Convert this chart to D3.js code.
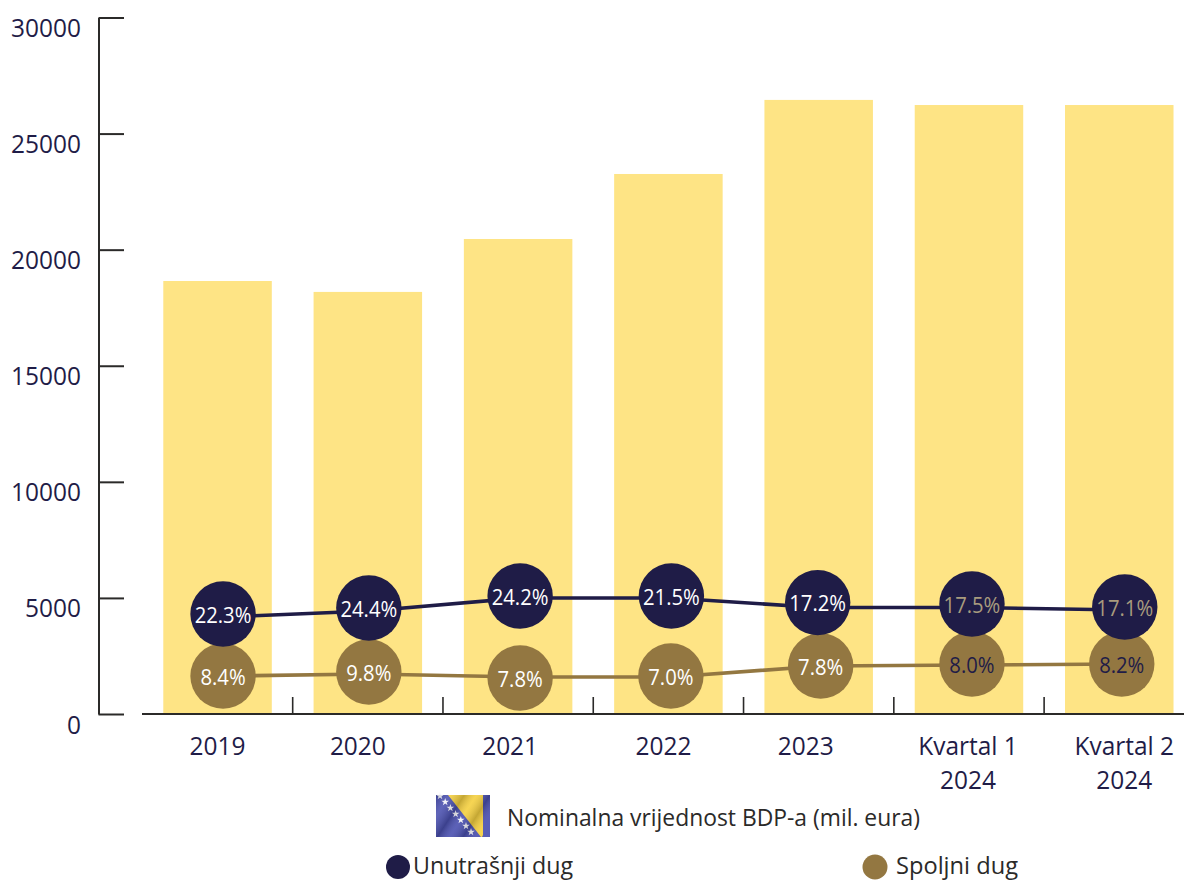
<!DOCTYPE html>
<html><head><meta charset="utf-8">
<script src="https://cdn.jsdelivr.net/npm/d3@7"></script>
<style>html,body{margin:0;padding:0;background:#fff;overflow:hidden}svg{display:block}text{font-family:"Open Sans",Lato,sans-serif}</style>
</head><body><svg id="c" width="1184" height="880"></svg>
<script>
const categories = ["2019","2020","2021","2022","2023","Kvartal 1|2024","Kvartal 2|2024"];
const gdpValues = [18650,18180,20460,23260,26450,26230,26230];
const domesticBubble = [4307,4565,5082,5082,4798,4737,4608];
const domesticLine = [4177,4436,4996,4996,4587,4587,4479];
const externalBubble = [1636,1809,1550,1636,2067,2153,2153];
const externalLine = [1636,1723,1593,1593,2067,2110,2153];
const domesticLabels = ["22.3%","24.4%","24.2%","21.5%","17.2%","17.5%","17.1%"];
const externalLabels = ["8.4%","9.8%","7.8%","7.0%","7.8%","8.0%","8.2%"];
const yTicks = [0,5000,10000,15000,20000,25000,30000];

const NAVY="#1f1c47",BROWN="#937741",BAR="#fee485",INK="#2b2a29";
const svg=d3.select("#c");
const x=d3.scaleBand().domain(categories).range([142.4,1194.4]).paddingInner(0.278).paddingOuter(0.139);
const y=d3.scaleLinear().domain([0,30000]).range([714,17.5]);
const step=x.step();
const cx=c=>x(c)+x.bandwidth()/2;
// squeeze Open Sans glyphs to the narrower proportions of the reference face
const squeeze=(sel,k)=>sel.each(function(){
  const len=this.getComputedTextLength();
  d3.select(this).attr("textLength",len*k).attr("lengthAdjust","spacingAndGlyphs");
});

svg.append("g").selectAll("rect").data(categories).join("rect")
  .attr("x",c=>x(c)).attr("width",x.bandwidth())
  .attr("y",(c,i)=>y(gdpValues[i])).attr("height",(c,i)=>y(0)-y(gdpValues[i]))
  .attr("fill",BAR);

const yAxis=svg.append("g").attr("transform","translate(98.5,0)")
  .call(d3.axisLeft(y).tickValues(yTicks).tickSize(-25.5).tickSizeOuter(0).tickPadding(0).tickFormat(d3.format("d")));
yAxis.selectAll("path,line").attr("stroke",INK).attr("stroke-width",2);
yAxis.selectAll("text").attr("x",-17.5).attr("dy",null).attr("y",19).attr("fill",NAVY).attr("font-size",26).attr("text-anchor","end").call(squeeze,0.94);

svg.append("line").attr("x1",142).attr("x2",1184).attr("y1",y(0)).attr("y2",y(0)).attr("stroke",INK).attr("stroke-width",2);
svg.append("g").selectAll("line").data(categories.slice(1)).join("line")
  .attr("x1",c=>x(c)-step*0.139).attr("x2",c=>x(c)-step*0.139)
  .attr("y1",y(0)).attr("y2",y(0)-17).attr("stroke",INK).attr("stroke-width",1.6);
const xNudge=[0,-10,-8,-5,-13,-1,5];
const xl=svg.append("g").selectAll("text").data(categories).join("text")
  .attr("text-anchor","middle").attr("fill",NAVY).attr("font-size",26)
  .attr("transform",(c,i)=>`translate(${cx(c)+xNudge[i]},755)`);
xl.each(function(c){
  c.split("|").forEach((t,j)=>d3.select(this).append("tspan").attr("x",0).attr("y",j*34).text(t));
});
xl.selectAll("tspan").call(squeeze,0.94);

const dxNavy=[5.5,1,2,3,-1,3,5.5], dxBrown=[5.5,1,2,2.5,2,3,2.5];
const series=[
 {vals:externalBubble,lineVals:externalLine,labels:externalLabels,dx:dxBrown,color:BROWN,txt:["#fff","#fff","#fff","#fff","#fff",NAVY,NAVY]},
 {vals:domesticBubble,lineVals:domesticLine,labels:domesticLabels,dx:dxNavy,color:NAVY,txt:["#fff","#fff","#fff","#fff","#fff","#a89b7e","#a89b7e"]}
];
series.forEach(s=>{
  const g=svg.append("g");
  const line=d3.line().x((c,i)=>cx(c)+s.dx[i]).y((c,i)=>y(s.lineVals[i]));
  g.append("path").attr("d",line(categories)).attr("fill","none").attr("stroke",s.color).attr("stroke-width",3.6);
  g.selectAll("circle").data(categories).join("circle")
    .attr("cx",(c,i)=>cx(c)+s.dx[i]).attr("cy",(c,i)=>y(s.vals[i])).attr("r",32.7).attr("fill",s.color);
  g.selectAll("text").data(categories).join("text")
    .attr("x",(c,i)=>cx(c)+s.dx[i]).attr("y",(c,i)=>y(s.vals[i])+8.5)
    .attr("text-anchor","middle").attr("font-size",22.5)
    .attr("fill",(c,i)=>s.txt[i]).text((c,i)=>s.labels[i]).call(squeeze,0.9);
});

// legend flag
const f=svg.append("g").attr("transform","translate(436,795)");
const defs=svg.append("defs");
const grad=defs.append("linearGradient").attr("id","fl").attr("x1",0).attr("x2",1).attr("y1",0).attr("y2",0.5);
[[0,"#000",0.18],[0.2,"#fff",0.12],[0.42,"#000",0.2],[0.6,"#fff",0.1],[0.8,"#000",0.2],[1,"#fff",0.08]]
  .forEach(d=>grad.append("stop").attr("offset",d[0]).attr("stop-color",d[1]).attr("stop-opacity",d[2]));
f.append("rect").attr("width",54).attr("height",42).attr("fill","#4a50b0");
f.append("path").attr("d","M12,0L47,0L47,40L46,42L45,42Z").attr("fill","#f5d040");
[[4,1],[9.2,7],[14.4,13],[19.6,19],[24.8,25],[30,31],[35,37]].forEach(p=>
  f.append("path").attr("d",d3.symbol(d3.symbolStar,18)()).attr("transform",`translate(${p[0]},${p[1]})`).attr("fill","#f4f4fa"));
f.append("rect").attr("width",54).attr("height",42).attr("fill","url(#fl)");

svg.append("text").attr("x",507).attr("y",826).attr("fill",INK).attr("font-size",24.5).text("Nominalna vrijednost BDP-a (mil. eura)").attr("textLength",413).attr("lengthAdjust","spacingAndGlyphs");
svg.append("circle").attr("cx",398).attr("cy",867).attr("r",12).attr("fill",NAVY);
svg.append("text").attr("x",413).attr("y",873.5).attr("fill",INK).attr("font-size",24).text("Unutrašnji dug").attr("textLength",160).attr("lengthAdjust","spacingAndGlyphs");
svg.append("circle").attr("cx",875).attr("cy",867).attr("r",12.5).attr("fill",BROWN);
svg.append("text").attr("x",896).attr("y",873.5).attr("fill",INK).attr("font-size",24).text("Spoljni dug").attr("textLength",122).attr("lengthAdjust","spacingAndGlyphs");
</script></body></html>
